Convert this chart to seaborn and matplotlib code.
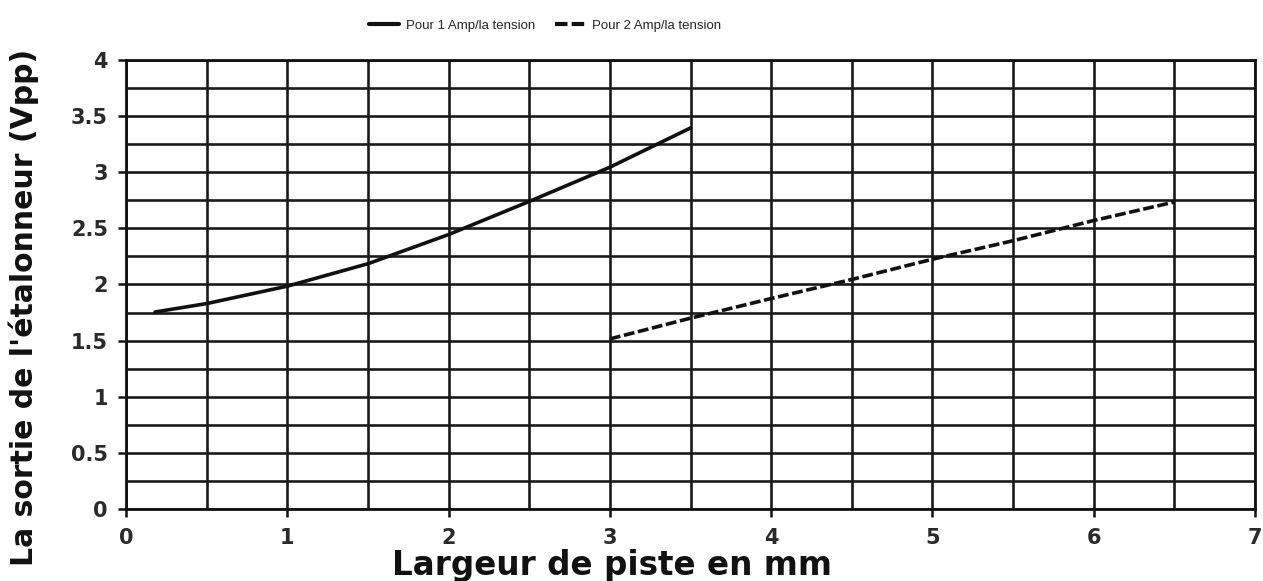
import numpy as np
import pandas as pd
import matplotlib
matplotlib.use("Agg")
import matplotlib.pyplot as plt
import seaborn as sns

# Data
x_1amp = [0.18, 0.5, 1.0, 1.5, 2.0, 2.5, 3.0, 3.5]
y_1amp = [1.755, 1.83, 1.985, 2.185, 2.445, 2.74, 3.045, 3.395]
x_2amp = [3.0, 3.5, 4.0, 4.5, 5.0, 5.5, 6.0, 6.5]
y_2amp = [1.515, 1.70, 1.875, 2.045, 2.225, 2.39, 2.57, 2.735]
series_names = ["Pour 1 Amp/la tension", "Pour 2 Amp/la tension"]
x_ticks = [0, 1, 2, 3, 4, 5, 6, 7]
y_ticks = [0, 0.5, 1, 1.5, 2, 2.5, 3, 3.5, 4]
y_tick_labels = ["0", "0.5", "1", "1.5", "2", "2.5", "3", "3.5", "4"]
x_label = "Largeur de piste en mm"
y_label = "La sortie de l'étalonneur (Vpp)"

df = pd.concat([
    pd.DataFrame({"x": x_1amp, "y": y_1amp, "s": series_names[0]}),
    pd.DataFrame({"x": x_2amp, "y": y_2amp, "s": series_names[1]}),
])

sns.set_style("white")
plt.rcParams["font.family"] = ["Liberation Sans", "DejaVu Sans"]

fig = plt.figure(figsize=(12.63, 5.81), dpi=100)
ax = fig.add_axes([0.0998, 0.124, 0.8939, 0.7727])

sns.lineplot(data=df, x="x", y="y", hue="s", style="s",
             palette=["#111111", "#111111"],
             dashes={series_names[0]: "", series_names[1]: (3, 1)},
             linewidth=2.6, ax=ax, sort=False, legend=True, zorder=5)

ax.set_xlim(0, 7)
ax.set_ylim(0, 4)
ax.set_xticks(np.arange(0, 7.01, 0.5), minor=True)
ax.set_yticks(np.arange(0, 4.01, 0.25), minor=True)
ax.set_xticks(x_ticks)
ax.set_yticks(y_ticks)
ax.set_yticklabels(y_tick_labels)
ax.grid(True, which="both", color="#1a1a1a", linewidth=1.9)
ax.set_axisbelow(True)
for sp in ax.spines.values():
    sp.set_color("#111111")
    sp.set_linewidth(2.0)
ax.tick_params(axis="both", which="major", direction="out", length=6, width=1.8,
               color="#111111", labelsize=15, labelcolor="#2a2a2a",
               bottom=True, left=True)
ax.tick_params(axis="y", which="major", pad=7)
ax.tick_params(axis="x", which="major", pad=8)
ax.tick_params(axis="both", which="minor", length=0)
for lab in ax.get_xticklabels() + ax.get_yticklabels():
    lab.set_fontweight("bold")
    lab.set_family(["DejaVu Sans"])

ax.set_xlabel(x_label, fontsize=23.5, fontweight="bold", color="#111111",
              family=["DejaVu Sans"], va="center")
ax.xaxis.set_label_coords(0.43, -0.125)
ax.set_ylabel(y_label, fontsize=21.5, fontweight="bold", color="#111111",
              family=["DejaVu Sans"], va="center")
ax.yaxis.set_label_coords(-0.091, 0.45)

handles, labels = ax.get_legend_handles_labels()
leg = ax.legend(handles, labels, loc="center", bbox_to_anchor=(0.371, 1.076),
                ncol=2, frameon=False, handlelength=2.3,
                columnspacing=1.5, handletextpad=0.5,
                prop={"family": ["Liberation Sans"], "size": 9.5})
for lh in leg.get_lines():
    lh.set_linewidth(3)

fig.savefig("out.png", dpi=100, facecolor="white")
